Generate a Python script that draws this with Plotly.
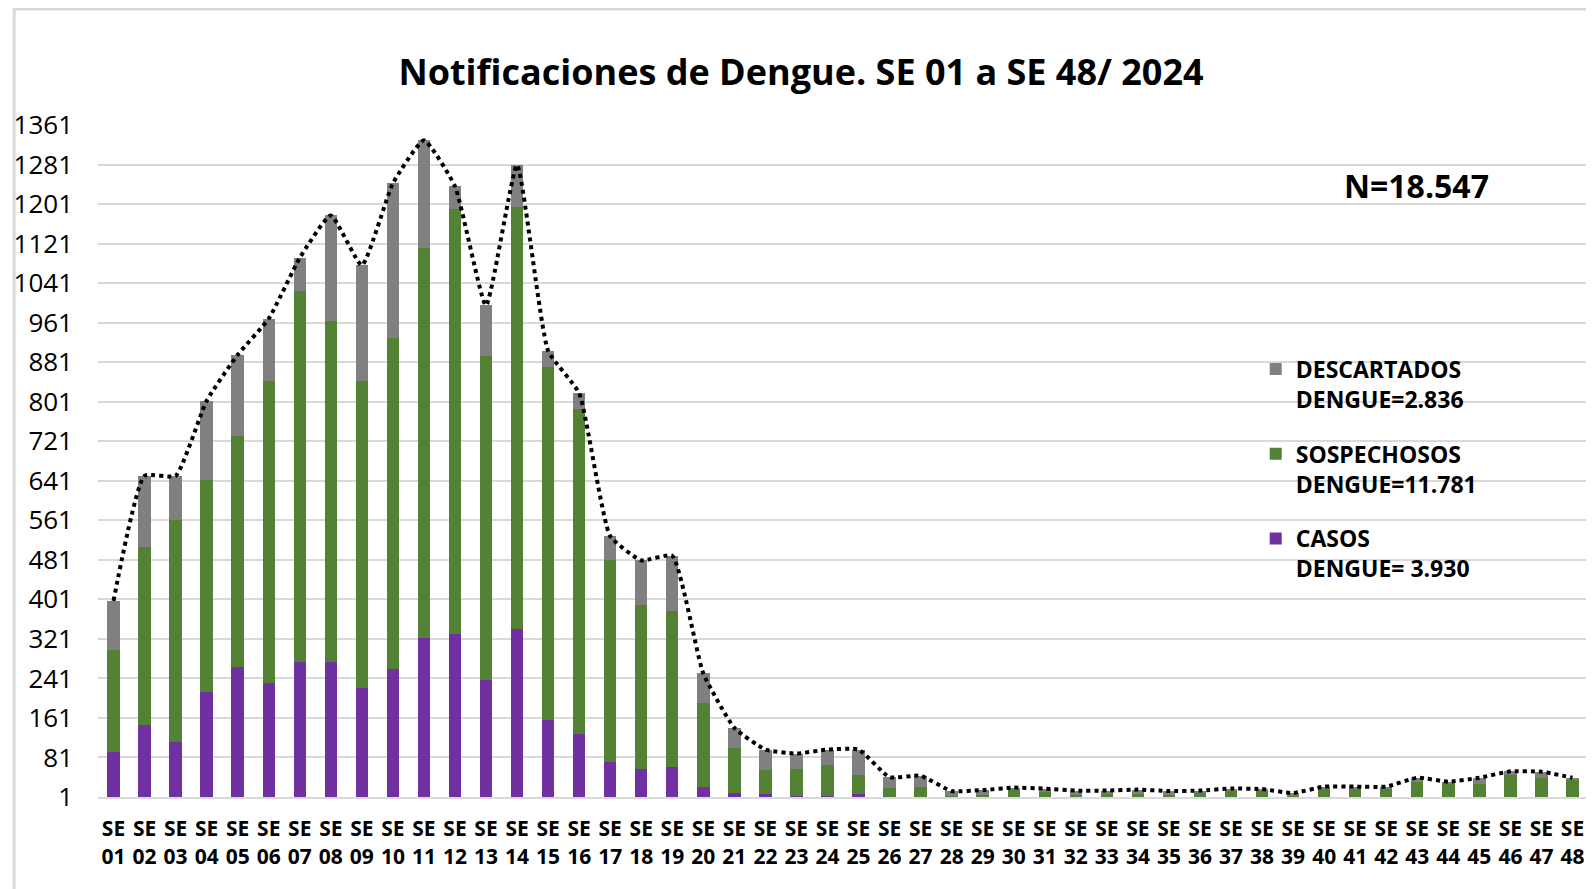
import plotly.graph_objects as go

semanas = [f"SE<br>{i:02d}" for i in range(1, 49)]

casos = [92, 147, 113, 213, 265, 232, 274, 274, 221, 260, 323, 331, 238, 340, 157, 128,
         72, 58, 61, 22, 10, 7, 4, 4, 7, 0, 0, 0, 0, 0, 0, 0,
         0, 0, 0, 0, 0, 0, 0, 0, 0, 0, 0, 0, 0, 0, 0, 0]
sospechosos = [207, 359, 449, 429, 466, 610, 751, 690, 621, 669, 789, 861, 656, 856, 714, 659,
               408, 332, 317, 170, 91, 48, 54, 62, 38, 20, 21, 4, 5, 16, 11, 5,
               7, 7, 5, 9, 14, 14, 5, 18, 18, 19, 31, 27, 27, 45, 40, 35]
descartados = [99, 145, 89, 161, 165, 127, 67, 214, 235, 314, 218, 45, 102, 84, 33, 31,
               49, 90, 111, 59, 40, 42, 31, 31, 52, 21, 23, 9, 10, 4, 7, 9,
               7, 9, 8, 5, 4, 3, 4, 4, 4, 3, 9, 5, 13, 8, 12, 5]
total = [a + b + c for a, b, c in zip(casos, sospechosos, descartados)]

y_ticks = list(range(1, 1362, 80))

FONT = "Open Sans"

# the page has an 8px body margin, so the figure is drawn 8px smaller and offset
W, H = 1586, 881
ML, MR, MT, MB = 88, 6, 117, 92
PW = W - ML - MR
PH = H - MT - MB

fig = go.Figure()
fig.add_trace(go.Bar(x=semanas, y=casos, name="CASOS<br>DENGUE= 3.930",
                     marker=dict(color="#7030A0", line=dict(width=0)),
                     legendgroup="c", legendrank=3))
fig.add_trace(go.Bar(x=semanas, y=sospechosos, name="SOSPECHOSOS<br>DENGUE=11.781",
                     marker=dict(color="#548235", line=dict(width=0)),
                     legendgroup="s", legendrank=2))
fig.add_trace(go.Bar(x=semanas, y=descartados, name="DESCARTADOS<br>DENGUE=2.836",
                     marker=dict(color="#808080", line=dict(width=0)),
                     legendgroup="d", legendrank=1))
fig.add_trace(go.Scatter(x=semanas, y=total, mode="lines", showlegend=False,
                         line=dict(color="black", width=4, dash="dot", shape="spline", smoothing=0.45)))

fig.update_layout(
    barmode="stack",
    bargap=0.6,
    width=W, height=H,
    margin=dict(l=ML, r=MR, t=MT, b=MB),
    paper_bgcolor="white", plot_bgcolor="white",
    font=dict(family=FONT, color="black"),
    title=dict(text="<b>Notificaciones de Dengue. SE 01 a SE 48/ 2024</b>",
               x=(801 - 8) / W, xanchor="center",
               y=1 - (72 - 8) / H, yanchor="middle",
               font=dict(size=36, family=FONT, color="black")),
    legend=dict(x=0.777, y=0.669, xanchor="left", yanchor="top",
                traceorder="grouped", tracegroupgap=22, valign="top",
                font=dict(size=23, family=FONT, color="black", weight="bold"),
                bgcolor="rgba(0,0,0,0)"),
    showlegend=True,
)

fig.update_xaxes(showgrid=False, showline=True, linecolor="#d9d9d9", linewidth=2,
                 tickangle=0, ticklabelstandoff=12,
                 tickfont=dict(size=21, family=FONT, color="black", weight="bold"))
fig.update_yaxes(range=[1, 1361], tickvals=y_ticks, ticktext=[str(v) for v in y_ticks],
                 showgrid=True, gridcolor="#d9d9d9", gridwidth=2, zeroline=False,
                 showline=False, ticklabelstandoff=24,
                 tickfont=dict(size=26, family=FONT, color="black"))

fig.add_annotation(text="<b>N=18.547</b>", xref="paper", yref="paper",
                   x=(1416 - 96) / PW, y=1 - (185 - 125) / PH,
                   xanchor="center", yanchor="middle", showarrow=False,
                   font=dict(size=32, family=FONT, color="black"))

# chart frame
fig.add_shape(type="rect", xref="paper", yref="paper",
              x0=(12 - 96) / PW, x1=1.2, y0=-0.5, y1=1 + (125 - 9) / PH,
              line=dict(color="#d9d9d9", width=3), fillcolor="rgba(0,0,0,0)", layer="below")

fig.write_html("out.html")
